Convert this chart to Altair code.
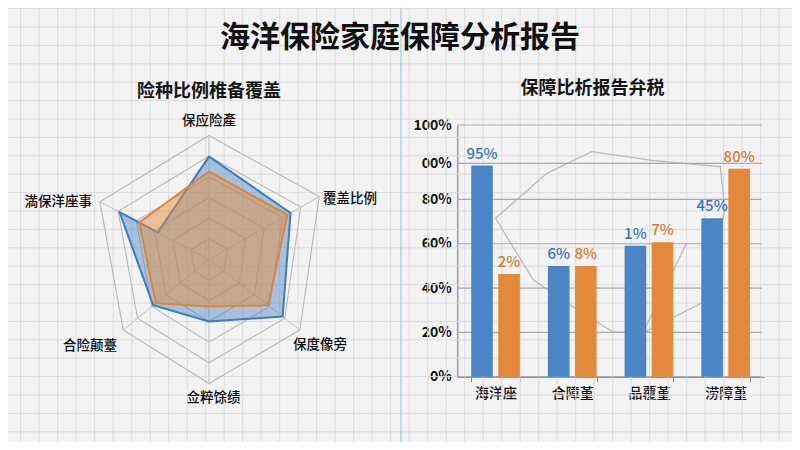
import math
import altair as alt
import numpy as np
import pandas as pd

# ---------------- data ----------------
main_title = "海洋保险家庭保障分析报告"
radar_title = "险种比例椎备覆盖"
bar_title = "保障比析报告弁税"

radar_axes = ["保应险產", "覆盖比例", "保度像旁", "佥粹馀绩", "合险颠薹", "満保洋座事"]
radar_blue = [0.83, 0.74, 0.81, 0.50, 0.65, 0.82]
radar_blue_extra = 0.47          # inner notch of the blue shape on the last axis
radar_orange = [0.71, 0.71, 0.65, 0.38, 0.62, 0.64]
radar_rings = [1 / 6, 2 / 6, 3 / 6, 4 / 6, 5 / 6, 1.0]

bar_categories = ["海洋座", "合障堇", "品覆堇", "涝障堇"]
bar_series = ["A", "B"]
bar_blue = [95.3, 50.0, 59.1, 71.5]
bar_orange = [46.4, 50.0, 60.7, 93.9]
bar_blue_labels = ["95%", "6%", "1%", "45%"]
bar_orange_labels = ["2%", "8%", "7%", "80%"]
y_tick_values = [0, 20, 40, 60, 80, 96.3, 113.6]
y_tick_labels = ["0%", "20%", "40%", "60%", "80%", "00%", "100%"]

# faint outline behind the bars (x in category units, y in percent units)
outline_x = [0.50, 1.17, 1.75, 2.56, 3.43, 3.49, 3.19, 2.42, 2.03, 1.51, 0.99, 0.50]
outline_y = [71.5, 91.8, 101.6, 97.5, 94.8, 75.3, 33.3, 19.7, 20.2, 31.5, 43.7, 71.5]
branch_x = [2.42, 2.99]
branch_y = [19.7, 60.2]

# ---------------- layout / style ----------------
W, H = 784, 434
FONT = "Noto Sans CJK SC"
BG = "#f3f3f3"
PAPER = "#dcdcdc"
BLUE = "#4a86c6"
ORANGE = "#e4883a"
CX, CY = 201, 251.5
axis_angle = [90, 29.7, -37.8, -90, -140.6, 152.1]
axis_len = [124, 126.9, 115, 124, 111, 123.4]
label_angle = [90, 27.9, -45.5, -88.1, -136.8, 153.7]
label_dist = [139, 129, 120, 138.6, 126.3, 130.5]
label_align = ["center", "left", "left", "center", "right", "right"]

BAND_RANGE = [449.2, 756.0]
Y_RANGE = [368.7, 117.0]


def pt(i, frac):
    a = math.radians(axis_angle[i])
    r = frac * axis_len[i]
    return CX + r * math.cos(a), CY - r * math.sin(a)


xs = alt.Scale(domain=[0, W], range=[0, W], nice=False, zero=False)
ys = alt.Scale(domain=[0, H], range=[0, H], nice=False, zero=False)
PX = alt.X("px:Q", scale=xs, axis=None)
PY = alt.Y("py:Q", scale=ys, axis=None)

# graph paper
paper_v = alt.Chart(pd.DataFrame({"px": np.arange(12.7, W, 18.5)})).mark_rule(
    color=PAPER, strokeWidth=1).encode(x=PX)
paper_h = alt.Chart(pd.DataFrame({"py": np.arange(0.6, H, 18.4)})).mark_rule(
    color=PAPER, strokeWidth=1).encode(y=PY)
margin_line = alt.Chart(pd.DataFrame({"px": [393]})).mark_rule(
    color="#b4d0ec", strokeWidth=1.5).encode(x=PX)

# radar grid
ring_rows = []
for k, rr in enumerate(radar_rings):
    for i in range(len(radar_axes)):
        x, y = pt(i, rr)
        ring_rows.append({"ring": k, "i": i, "px": x, "py": y})
rings = alt.Chart(pd.DataFrame(ring_rows)).mark_line(
    interpolate="linear-closed", color="#b8b8b8", strokeWidth=1.1).encode(
    x=PX, y=PY, detail="ring:N", order="i:Q")

spoke_rows = []
for i in range(len(radar_axes)):
    x, y = pt(i, 1.0)
    spoke_rows.append({"px": CX, "py": CY, "px2": x, "py2": y})
spokes = alt.Chart(pd.DataFrame(spoke_rows)).mark_rule(
    color="#c0c0c0", strokeWidth=1).encode(x=PX, y=PY, x2="px2:Q", y2="py2:Q")

# radar shapes
blue_pts = [(i, v) for i, v in enumerate(radar_blue)] + [(len(radar_axes) - 1, radar_blue_extra)]
blue_df = pd.DataFrame([{"o": n, "px": pt(i, v)[0], "py": pt(i, v)[1]}
                        for n, (i, v) in enumerate(blue_pts)])
orange_df = pd.DataFrame([{"o": i, "px": pt(i, v)[0], "py": pt(i, v)[1]}
                          for i, v in enumerate(radar_orange)])
blue_shape = alt.Chart(blue_df).mark_line(
    interpolate="linear-closed", stroke="#3d7cc0", strokeWidth=2,
    fill=BLUE, fillOpacity=0.45, strokeJoin="round").encode(x=PX, y=PY, order="o:Q")
orange_shape = alt.Chart(orange_df).mark_line(
    interpolate="linear-closed", stroke="#e0843a", strokeWidth=2,
    fill="#e3903d", fillOpacity=0.5, strokeJoin="round").encode(
    x=PX, y=PY, order="o:Q")

# radar labels
lab_rows = []
for i, name in enumerate(radar_axes):
    a = math.radians(label_angle[i])
    lab_rows.append({"px": CX + label_dist[i] * math.cos(a),
                     "py": CY - label_dist[i] * math.sin(a),
                     "t": name, "al": label_align[i]})
lab_df = pd.DataFrame(lab_rows)
label_layers = []
for al in ["center", "left", "right"]:
    sub = lab_df[lab_df["al"] == al]
    label_layers.append(alt.Chart(sub).mark_text(
        font=FONT, fontSize=13.5, fontWeight=500, color="#0d0d0d", align=al,
        baseline="middle").encode(x=PX, y=PY, text="t:N"))

# titles
t_main = alt.Chart(pd.DataFrame({"t": [main_title]})).mark_text(
    font=FONT, fontSize=30, fontWeight="bold", color="#111111", baseline="middle").encode(
    x=alt.value(392), y=alt.value(30), text="t:N")
t_radar = alt.Chart(pd.DataFrame({"t": [radar_title]})).mark_text(
    font=FONT, fontSize=18, fontWeight="bold", color="#151515", baseline="middle").encode(
    x=alt.value(201), y=alt.value(83.7), text="t:N")
t_bar = alt.Chart(pd.DataFrame({"t": [bar_title]})).mark_text(
    font=FONT, fontSize=18, fontWeight="bold", color="#151515", baseline="middle").encode(
    x=alt.value(584.5), y=alt.value(81.3), text="t:N")

canvas_group = alt.layer(paper_v, paper_h, margin_line, rings, spokes, blue_shape,
                         orange_shape, *label_layers, t_main, t_radar, t_bar)

# outline behind bars
out_df = pd.DataFrame({"ox": outline_x, "oy": outline_y, "o": range(len(outline_x)), "g": 0})
br_df = pd.DataFrame({"ox": branch_x, "oy": branch_y, "o": range(len(branch_x)), "g": 1})
ox_scale = alt.Scale(domain=[0, 4], range=BAND_RANGE, nice=False, zero=False)
oy_scale = alt.Scale(domain=[0, y_tick_values[-1]], range=Y_RANGE, nice=False, zero=False)
outline = alt.Chart(pd.concat([out_df, br_df])).mark_line(
    color="#b9b9b9", strokeWidth=1.3).encode(
    x=alt.X("ox:Q", scale=ox_scale, axis=None),
    y=alt.Y("oy:Q", scale=oy_scale, axis=None),
    detail="g:N", order="o:Q")

# bar chart
bar_rows = []
for c, v, l in zip(bar_categories, bar_blue, bar_blue_labels):
    bar_rows.append({"cat": c, "series": "A", "value": v, "label": l})
for c, v, l in zip(bar_categories, bar_orange, bar_orange_labels):
    bar_rows.append({"cat": c, "series": "B", "value": v, "label": l})
bar_df = pd.DataFrame(bar_rows)

labels_js = "[" + ",".join("'%s'" % s for s in y_tick_labels) + "]"
values_js = "[" + ",".join(str(v) for v in y_tick_values) + "]"
label_expr = "%s[indexof(%s, datum.value)]" % (labels_js, values_js)

BX = alt.X("cat:N", sort=bar_categories,
           scale=alt.Scale(range=BAND_RANGE, paddingInner=0.365, paddingOuter=0.1825),
           axis=alt.Axis(title=None, orient="bottom", offset=-(H - Y_RANGE[0]),
                         labelAngle=0, labelFont=FONT, labelFontSize=14, labelFontWeight=500,
                         labelColor="#111111", labelPadding=5, tickBand="extent",
                         tickSize=5, tickColor="#8a8a8a", domainColor="#8a8a8a",
                         domainWidth=1.5, grid=False))
BXO = alt.XOffset("series:N", sort=bar_series, scale=alt.Scale(paddingInner=0.2))
BY = alt.Y("value:Q",
           scale=alt.Scale(domain=[0, y_tick_values[-1]], range=Y_RANGE, nice=False, zero=False),
           axis=alt.Axis(title=None, orient="left", offset=-BAND_RANGE[0],
                         values=y_tick_values, labelExpr=label_expr, labelFont=FONT,
                         labelFontSize=14, labelFontWeight="bold", labelColor="#111111",
                         labelPadding=6, ticks=False, domainColor="#9a9a9a",
                         domainWidth=1.5, grid=False))
BC = alt.Color("series:N", scale=alt.Scale(domain=bar_series, range=[BLUE, ORANGE]), legend=None)
TC = alt.Color("series:N", scale=alt.Scale(domain=bar_series, range=["#3574ba", "#d97d2e"]),
               legend=None)

grid_df = pd.DataFrame({"value": y_tick_values})
gridlines = alt.Chart(grid_df).mark_rule(color="#a9a9a9", strokeWidth=1.2).encode(
    y=BY, x=alt.value(BAND_RANGE[0]), x2=alt.value(753.7))
bars = alt.Chart(bar_df).mark_bar().encode(x=BX, xOffset=BXO, y=BY, color=BC)
bar_text = alt.Chart(bar_df).mark_text(
    font=FONT, fontSize=15, fontWeight=500, dy=-12, baseline="middle").encode(
    x=BX, xOffset=BXO, y=BY, text="label:N", color=TC)

bar_group = alt.layer(gridlines, bars, bar_text).resolve_scale(color="independent")

chart = alt.layer(canvas_group, outline, bar_group).resolve_scale(
    x="independent", y="independent"
).properties(
    width=W, height=H, padding=0, autosize=alt.AutoSizeParams(type="none")
).configure(background=BG).configure_view(stroke="transparent")

chart.save("out.html", embed_options={"renderer": "svg", "actions": False})
